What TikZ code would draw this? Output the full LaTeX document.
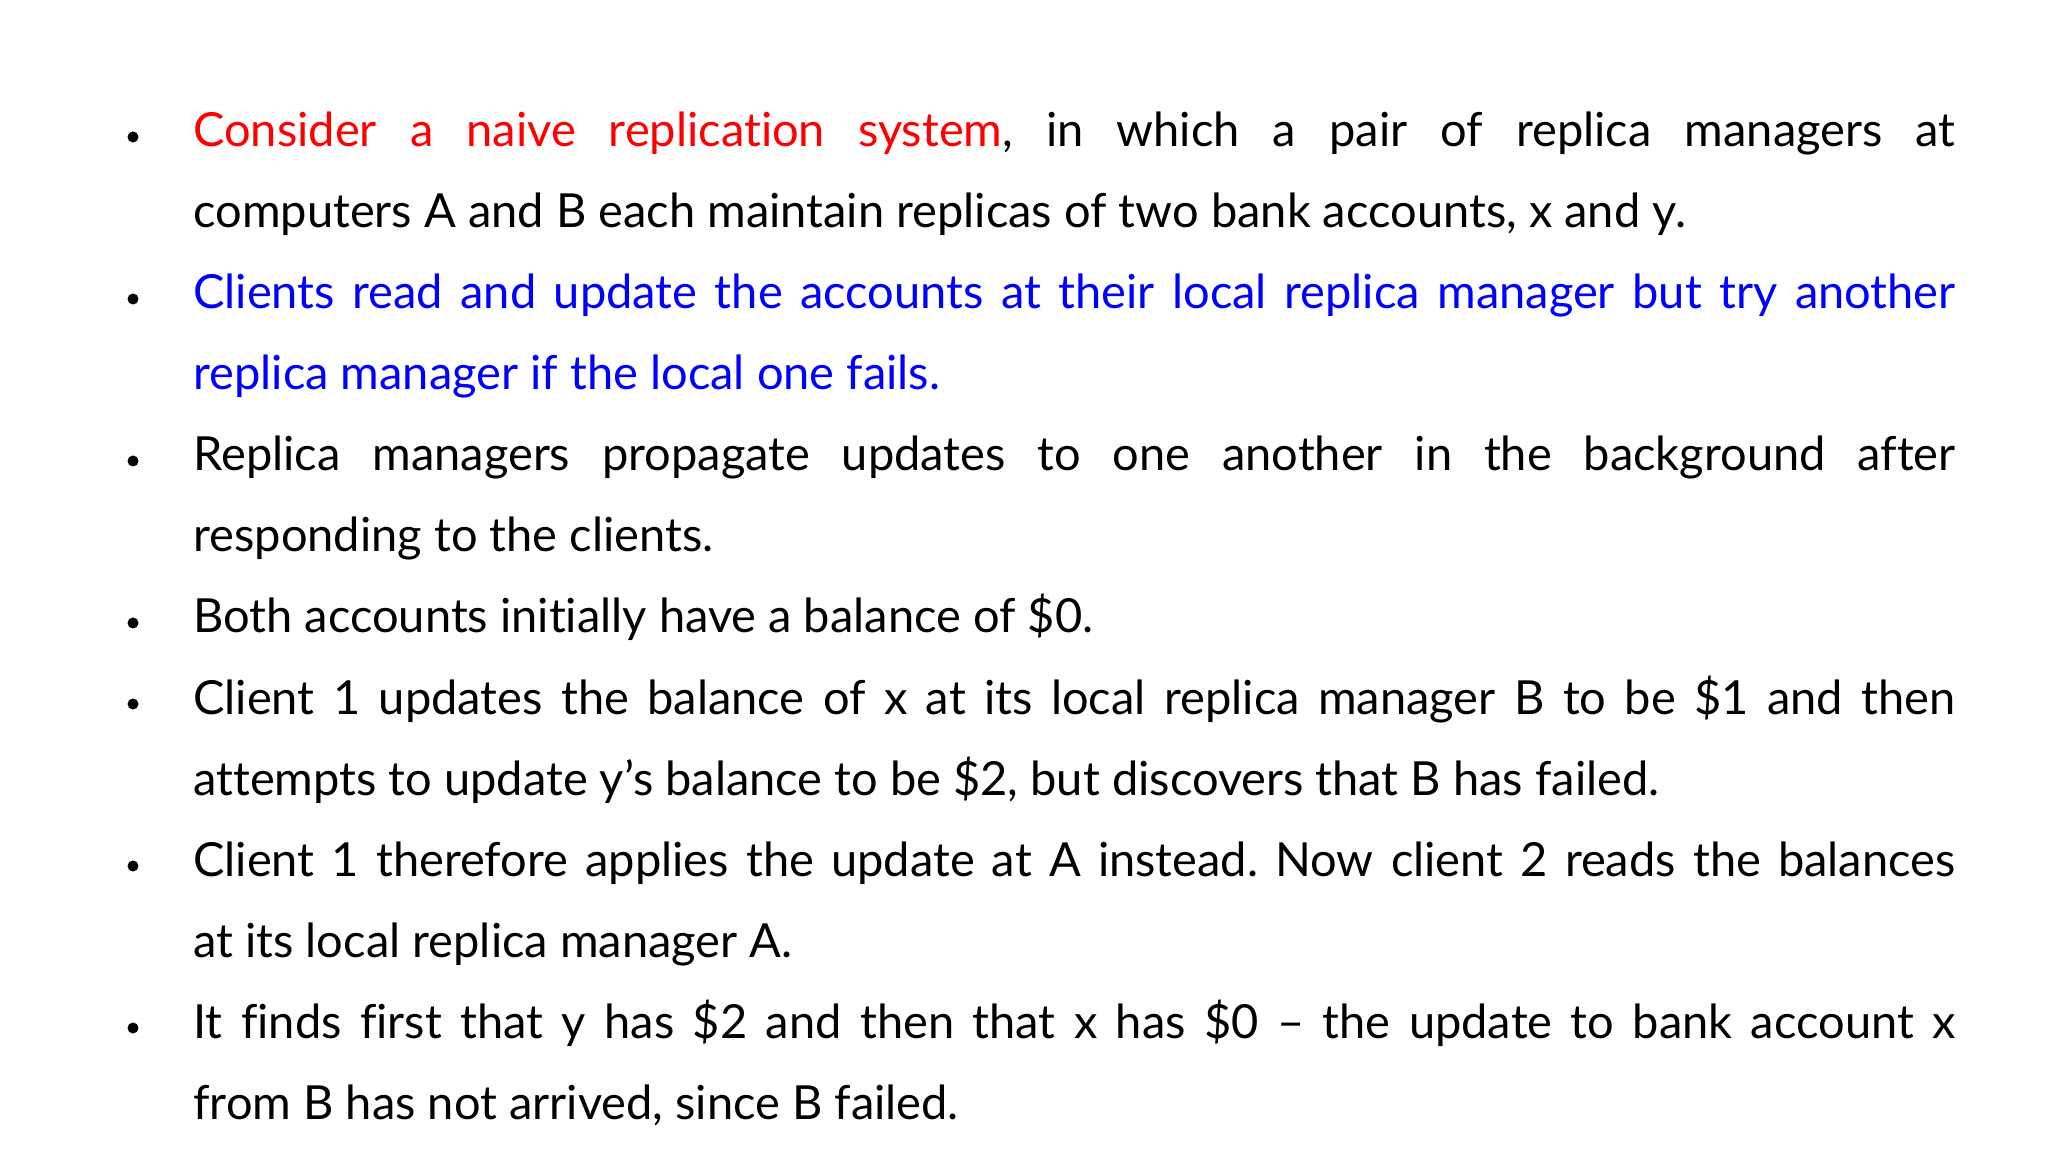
\documentclass[tikz,border=0pt]{standalone}
\usepackage{fontspec}
\setmainfont{Lato}[Ligatures={NoCommon}]
\frenchspacing
\begin{document}
\begin{tikzpicture}[x=1pt,y=1pt,
  para/.style={anchor=base west,inner sep=0pt,text width=881pt,align=justify,
    font=\fontsize{23.5}{40.5}\selectfont},
  dot/.style={fill=black,circle,inner sep=0pt,minimum size=5.5pt}]
\useasboundingbox (0,0) rectangle (1024,576);
\foreach \i/\y in {1/502.5,2/421.5,3/340.5,4/259.5,5/219,6/138,7/57}{
  \node[dot] (b\i) at (66.5,\y+5) {};
}
\node[para] (p1) at (96.5,502.5) {\textcolor{red}{Consider a naive replication system}, in which a pair of replica managers at\linebreak computers A and B each maintain replicas of two bank accounts, x and y.};
\node[para] (p2) at (96.5,421.5) {\textcolor{blue}{Clients read and update the accounts at their local replica manager but try another\linebreak replica manager if the local one fails.}};
\node[para] (p3) at (96.5,340.5) {Replica managers propagate updates to one another in the background after\linebreak responding to the clients.};
\node[para] (p4) at (96.5,259.5) {Both accounts initially have a balance of \$0.};
\node[para] (p5) at (96.5,219) {Client 1 updates the balance of x at its local replica manager B to be \$1 and then\linebreak attempts to update y’s balance to be \$2, but discovers that B has failed.};
\node[para] (p6) at (96.5,138) {Client 1 therefore applies the update at A instead. Now client 2 reads the balances\linebreak at its local replica manager A.};
\node[para] (p7) at (96.5,57) {It finds first that y has \$2 and then that x has \$0 – the update to bank account x\linebreak from B has not arrived, since B failed.};
\end{tikzpicture}
\end{document}
